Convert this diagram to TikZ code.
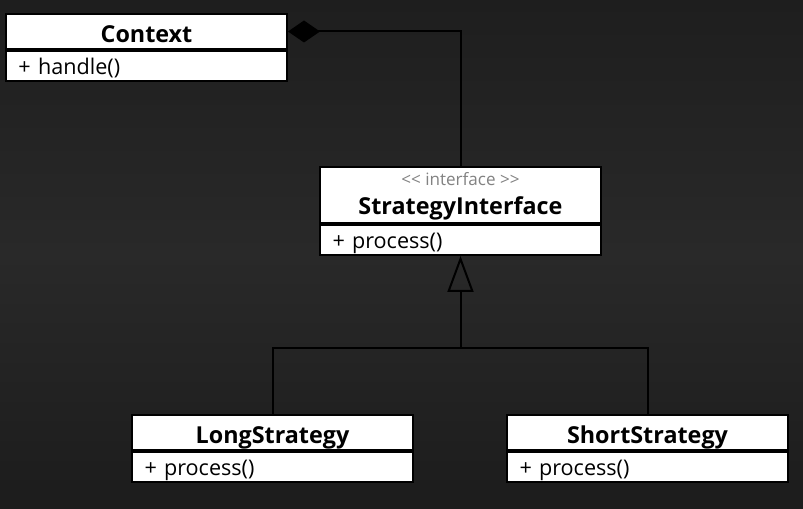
\documentclass[tikz,border=0pt]{standalone}
\usepackage{fontspec}
\setmainfont{Open Sans}
\usepackage{tikz}
\usetikzlibrary{arrows.meta,positioning}
\definecolor{bgtop}{RGB}{30,30,30}
\definecolor{bgmid}{RGB}{41,41,41}
\definecolor{bgbot}{RGB}{28,28,28}
\definecolor{stereo}{RGB}{130,130,130}

\begin{document}
\begin{tikzpicture}[
    x=0.75pt, y=-0.75pt,
    node distance=0pt,
    head/.style={draw=black, fill=white, line width=1.5pt, minimum width=210.75pt,
                 minimum height=26.25pt, inner sep=0pt, text height=17pt, text depth=1.2pt,
                 font=\fontsize{17.5}{21.75}\selectfont\bfseries},
    attr/.style={draw=black, fill=white, line width=1.5pt, text width=192pt, minimum width=210.75pt,
                 minimum height=22.5pt, inner sep=0pt, text height=15pt, text depth=2.2pt,
                 align=left, font=\fontsize{16.2}{19}\selectfont},
    link/.style={draw=black, line width=1.5pt}
]
    % background
    \shade[top color=bgtop, bottom color=bgbot, middle color=bgmid] (0,0) rectangle (803,509);
    \useasboundingbox (0,0) rectangle (803,509);

    % classes
    \node[head] (ctxhead) at (146.5,31.5) {Context};
    \node[attr, below=of ctxhead.south, anchor=north] (ctxattr) {+ handle()};

    \node[head, minimum height=42pt, text height=, text depth=, align=center] (ifacehead) at (460.5,195)
        {{\fontsize{12.8}{14}\selectfont\mdseries\color{stereo}\rule{0pt}{12.3pt}<\kern0pt< interface >\kern0pt>}\\StrategyInterface};
    \node[attr, below=of ifacehead.south, anchor=north] (ifaceattr) {+ process()};

    \node[head] (longhead) at (272.5,432.5) {LongStrategy};
    \node[attr, below=of longhead.south, anchor=north] (longattr) {+ process()};

    \node[head] (shorthead) at (647.5,432.5) {ShortStrategy};
    \node[attr, below=of shorthead.south, anchor=north] (shortattr) {+ process()};

    % connectors
    \coordinate (fork) at (460.5,348);
    \draw[link, {Diamond[length=24pt, width=16.5pt]}-] (ctxhead.east) -| (ifacehead.north);
    \draw[link, -{Triangle[open, length=27pt, width=19.5pt]}] (fork) -- (ifaceattr.south);
    \draw[link] (longhead.north) |- (fork) -| (shorthead.north);
\end{tikzpicture}
\end{document}
